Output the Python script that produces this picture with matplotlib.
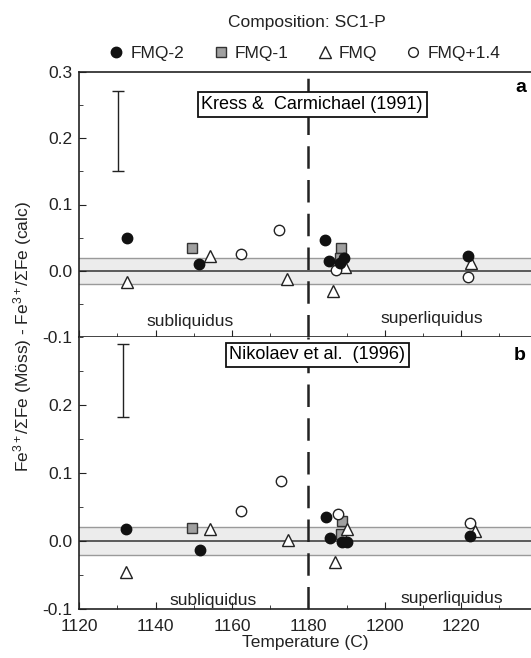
import numpy as np
import matplotlib
matplotlib.use("Agg")
import matplotlib.pyplot as plt
from matplotlib.lines import Line2D
from matplotlib.ticker import MultipleLocator

plt.rcParams['font.family'] = ['Liberation Sans', 'DejaVu Sans']
plt.rcParams['font.size'] = 12.5
plt.rcParams['mathtext.fontset'] = 'custom'
plt.rcParams['mathtext.rm'] = 'Liberation Sans'
plt.rcParams['mathtext.it'] = 'Liberation Sans:italic'
plt.rcParams['mathtext.bf'] = 'Liberation Sans:bold'

# panel a: Kress & Carmichael (1991)
a_fmq2_t = [1132.4, 1151.3, 1184.4, 1185.3, 1188.3, 1189.3, 1221.7]
a_fmq2_v = [0.050, 0.010, 0.046, 0.014, 0.012, 0.020, 0.022]
a_fmq1_t = [1149.4, 1188.5, 1188.4]
a_fmq1_v = [0.034, 0.035, 0.020]
a_fmq_t = [1132.4, 1154.3, 1174.3, 1186.5, 1189.7, 1222.5]
a_fmq_v = [-0.017, 0.022, -0.013, -0.030, 0.006, 0.011]
a_fmq14_t = [1162.4, 1172.3, 1187.1, 1221.7]
a_fmq14_v = [0.026, 0.061, 0.001, -0.010]

# panel b: Nikolaev et al. (1996)
b_fmq2_t = [1132.2, 1151.5, 1184.5, 1185.7, 1188.7, 1190.0, 1222.4]
b_fmq2_v = [0.018, -0.013, 0.036, 0.005, -0.002, -0.002, 0.007]
b_fmq1_t = [1149.5, 1188.8, 1188.5]
b_fmq1_v = [0.019, 0.029, 0.010]
b_fmq_t = [1132.2, 1154.3, 1174.7, 1187.0, 1190.0, 1223.7]
b_fmq_v = [-0.045, 0.0175, 0.001, -0.031, 0.018, 0.014]
b_fmq14_t = [1162.4, 1172.7, 1187.8, 1222.4]
b_fmq14_v = [0.044, 0.088, 0.039, 0.026]

# error bars (x, low, high)
err_a = (1130.2, 0.151, 0.271)
err_b = (1131.4, 0.182, 0.289)

W, H = 531, 658
fig = plt.figure(figsize=(W / 100, H / 100), dpi=100)
left = 79.3 / W
width = 1 - left
y_top, y_mid, y_bot = 72, 337, 609
ax_a = fig.add_axes([left, 1 - y_mid / H, width, (y_mid - y_top) / H])
ax_b = fig.add_axes([left, 1 - y_bot / H, width, (y_bot - y_mid) / H])

panels = [
    (ax_a, (a_fmq2_t, a_fmq2_v), (a_fmq1_t, a_fmq1_v), (a_fmq_t, a_fmq_v),
     (a_fmq14_t, a_fmq14_v), err_a, 'Kress &  Carmichael (1991)', 'a',
     (1181, 0.251), 0.277, (1149, -0.076), (1212.3, -0.072)),
    (ax_b, (b_fmq2_t, b_fmq2_v), (b_fmq1_t, b_fmq1_v), (b_fmq_t, b_fmq_v),
     (b_fmq14_t, b_fmq14_v), err_b, 'Nikolaev et al.  (1996)', 'b',
     (1182.3, 0.274), 0.273, (1155.1, -0.087), (1217.6, -0.085)),
]

for ax, f2, f1, f0, f14, err, ref, lab, refpos, laby, subpos, suppos in panels:
    ax.set_xlim(1120, 1238.3)
    ax.set_ylim(-0.1, 0.3)
    ax.axhspan(-0.02, 0.02, facecolor='#ececec', edgecolor='none', zorder=0)
    ax.axhline(0.02, color='#9a9a9a', lw=1, zorder=1)
    ax.axhline(-0.02, color='#9a9a9a', lw=1, zorder=1)
    ax.axhline(0, color='#333333', lw=1.1, zorder=1)
    ax.axvline(1180, color='#222222', lw=1.8, dashes=(9, 4.5), zorder=1)
    ax.plot(f1[0], f1[1], 's', ms=7, mfc='#a0a0a0', mec='#333333', mew=1, zorder=3)
    ax.plot(f0[0], f0[1], '^', ms=8, mfc='white', mec='#222222', mew=1, zorder=4)
    ax.plot(f14[0], f14[1], 'o', ms=7.5, mfc='white', mec='#222222', mew=1, zorder=4)
    ax.plot(f2[0], f2[1], 'o', ms=7.5, mfc='#111111', mec='#111111', zorder=5)
    mid = (err[1] + err[2]) / 2
    ax.errorbar([err[0]], [mid], yerr=[(err[2] - err[1]) / 2], fmt='none',
                ecolor='#222222', elinewidth=1, capsize=4, capthick=1)
    ax.text(refpos[0], refpos[1], ref, ha='center', va='center', fontsize=13,
            zorder=6, bbox=dict(boxstyle='square,pad=0.2', fc='white', ec='#111111', lw=1.3))
    ax.text(1237, laby, lab, ha='right', va='center', fontsize=14, fontweight='bold')
    ax.text(subpos[0], subpos[1], 'subliquidus', ha='center', va='center', color='#222222')
    ax.text(suppos[0], suppos[1], 'superliquidus', ha='center', va='center', color='#222222')
    ax.spines['right'].set_visible(False)
    for s in ['left', 'bottom', 'top']:
        ax.spines[s].set_color('#222222')
        ax.spines[s].set_linewidth(1.2)
    ax.yaxis.set_major_locator(MultipleLocator(0.1))
    ax.yaxis.set_minor_locator(MultipleLocator(0.05))
    ax.xaxis.set_major_locator(MultipleLocator(20))
    ax.xaxis.set_minor_locator(MultipleLocator(10))
    ax.tick_params(which='both', direction='in', color='#222222', right=False, top=False)
    ax.tick_params(which='major', length=5)
    ax.tick_params(which='minor', length=3)
    ax.tick_params(axis='y', labelsize=12.5, labelcolor='#222222', pad=5)
    ax.tick_params(axis='x', labelsize=12.5, labelcolor='#222222', pad=7)

ax_a.set_yticks([-0.1, 0.0, 0.1, 0.2, 0.3])
ax_a.set_yticklabels(['-0.1', '0.0', '0.1', '0.2', '0.3'])
ax_a.tick_params(axis='x', labelbottom=False)
ax_b.set_yticks([-0.1, 0.0, 0.1, 0.2])
ax_b.set_yticklabels(['-0.1', '0.0', '0.1', '0.2'])
ax_b.spines['top'].set_visible(False)
ax_b.set_xticks([1120, 1140, 1160, 1180, 1200, 1220])
ax_b.set_xlabel('Temperature (C)', color='#222222', labelpad=1)

fig.text(23 / W, 1 - 337 / H,
         r'Fe$^{3+}$/$\Sigma$Fe (Möss) - Fe$^{3+}$/$\Sigma$Fe (calc)',
         rotation=90, ha='center', va='center', fontsize=12.5, color='#222222')

fig.text(307 / W, 1 - 22 / H, 'Composition: SC1-P', ha='center', va='center',
         color='#222222')
handles = [
    Line2D([], [], ls='none', marker='o', ms=7.5, mfc='#111111', mec='#111111'),
    Line2D([], [], ls='none', marker='s', ms=7, mfc='#a0a0a0', mec='#333333'),
    Line2D([], [], ls='none', marker='^', ms=8, mfc='white', mec='#222222'),
    Line2D([], [], ls='none', marker='o', ms=7, mfc='white', mec='#222222'),
]
labels = ['FMQ-2', 'FMQ-1', 'FMQ', 'FMQ+1.4']
fig.legend(handles, labels, ncol=4, loc='center', bbox_to_anchor=(304 / W, 1 - 53 / H),
           frameon=False, handletextpad=0.3, columnspacing=1.6, handlelength=1.0,
           labelcolor='#222222')

fig.savefig('out.png', dpi=100)
